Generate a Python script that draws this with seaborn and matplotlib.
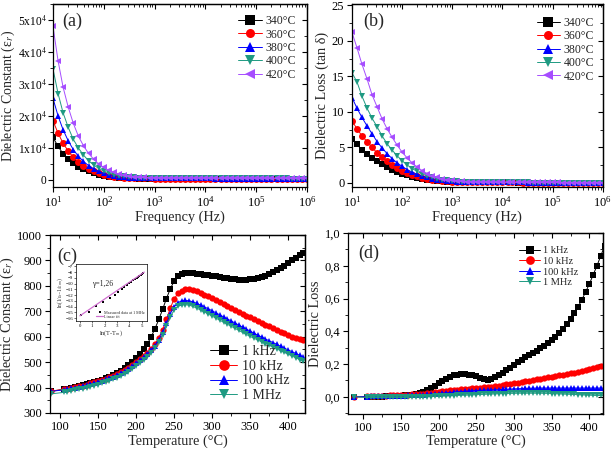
import numpy as np
import pandas as pd
import matplotlib
matplotlib.use("Agg")
import matplotlib.pyplot as plt
import seaborn as sns
from matplotlib.ticker import MultipleLocator, FuncFormatter, FixedLocator

# ---------------- data ----------------
freq = [10, 12.6, 15.8, 20.0, 25.1, 31.6, 39.8, 50.1, 63.1, 79.4,
        100, 126, 158, 200, 251, 316, 398, 501, 631, 794,
        1000, 1260, 1580, 2000, 2510, 3160, 3980, 5010, 6310, 7940,
        1e4, 1.26e4, 1.58e4, 2.0e4, 2.51e4, 3.16e4, 3.98e4, 5.01e4, 6.31e4, 7.94e4,
        1e5, 1.26e5, 1.58e5, 2.0e5, 2.51e5, 3.16e5, 3.98e5, 5.01e5, 6.31e5, 7.94e5,
        1e6]
anneal_labels = ["340°C", "360°C", "380°C", "400°C", "420°C"]

eps_340 = [13300, 10500, 8200, 6600, 5300, 4200, 3400, 2700, 2150, 1700,
           1350, 1080, 880, 730, 620, 540, 480, 440, 410, 390,
           375, 370, 365, 362, 360, 358, 356, 354, 352, 350,
           349, 348, 347, 346, 345, 344, 343, 342, 341, 340,
           339, 338, 337, 336, 335, 334, 333, 332, 331, 330,
           329]
eps_360 = [18500, 14600, 11500, 9000, 7100, 5600, 4400, 3500, 2750, 2150,
           1700, 1350, 1080, 880, 740, 640, 570, 520, 490, 470,
           455, 448, 444, 440, 437, 434, 431, 428, 425, 422,
           420, 418, 416, 414, 412, 410, 408, 406, 404, 402,
           400, 398, 396, 394, 392, 390, 388, 386, 384, 382,
           380]
eps_380 = [25500, 20000, 15700, 12200, 9500, 7400, 5800, 4500, 3500, 2700,
           2100, 1650, 1300, 1050, 870, 740, 650, 590, 550, 525,
           510, 500, 495, 490, 486, 482, 478, 474, 470, 467,
           464, 461, 458, 455, 452, 449, 446, 443, 440, 437,
           434, 432, 430, 428, 426, 424, 422, 420, 418, 416,
           414]
eps_400 = [34700, 27000, 21000, 16400, 12700, 10000, 7800, 6000, 4700, 3600,
           2800, 2150, 1700, 1350, 1100, 920, 800, 710, 650, 615,
           590, 575, 565, 557, 550, 544, 538, 532, 527, 522,
           517, 512, 508, 504, 500, 496, 492, 488, 485, 482,
           479, 476, 473, 470, 467, 464, 461, 458, 455, 452,
           450]
eps_420 = [48000, 37200, 29000, 22700, 17700, 13700, 10700, 8300, 6500, 5000,
           3900, 3000, 2350, 1850, 1480, 1200, 1000, 870, 780, 720,
           680, 655, 640, 628, 618, 610, 602, 595, 588, 582,
           576, 570, 565, 560, 555, 550, 545, 541, 537, 533,
           529, 525, 521, 518, 515, 512, 509, 506, 503, 500,
           497]

tan_340 = [6.2, 5.4, 4.6, 4.0, 3.5, 3.1, 2.6, 2.2, 1.85, 1.55,
           1.3, 1.05, 0.85, 0.68, 0.54, 0.42, 0.33, 0.26, 0.2, 0.16,
           0.13, 0.11, 0.1, 0.09, 0.08, 0.07, 0.065, 0.06, 0.055, 0.05,
           0.045, 0.04, 0.04, 0.035, 0.035, 0.03, 0.03, 0.03, 0.025, 0.025,
           0.025, 0.02, 0.02, 0.02, 0.02, 0.02, 0.015, 0.015, 0.015, 0.015,
           0.015]
tan_360 = [8.7, 7.6, 6.6, 5.8, 5.0, 4.2, 3.6, 3.0, 2.5, 2.1,
           1.7, 1.4, 1.12, 0.9, 0.72, 0.57, 0.45, 0.35, 0.27, 0.21,
           0.17, 0.14, 0.12, 0.1, 0.09, 0.08, 0.07, 0.065, 0.06, 0.055,
           0.05, 0.045, 0.04, 0.04, 0.035, 0.035, 0.03, 0.03, 0.03, 0.025,
           0.025, 0.025, 0.02, 0.02, 0.02, 0.02, 0.02, 0.02, 0.015, 0.015,
           0.015]
tan_380 = [12.0, 10.5, 9.2, 8.0, 6.9, 5.8, 4.9, 4.1, 3.4, 2.8,
           2.3, 1.85, 1.5, 1.2, 0.95, 0.75, 0.58, 0.45, 0.35, 0.27,
           0.21, 0.17, 0.14, 0.12, 0.1, 0.09, 0.08, 0.07, 0.065, 0.06,
           0.055, 0.05, 0.045, 0.04, 0.04, 0.035, 0.035, 0.03, 0.03, 0.03,
           0.025, 0.025, 0.025, 0.02, 0.02, 0.02, 0.02, 0.02, 0.02, 0.02,
           0.02]
tan_400 = [15.5, 14.2, 12.2, 10.5, 9.1, 7.9, 6.6, 5.5, 4.6, 3.8,
           3.1, 2.5, 2.0, 1.6, 1.25, 0.97, 0.75, 0.57, 0.43, 0.33,
           0.25, 0.2, 0.16, 0.13, 0.11, 0.1, 0.09, 0.08, 0.07, 0.065,
           0.06, 0.055, 0.05, 0.045, 0.04, 0.04, 0.035, 0.035, 0.03, 0.03,
           0.03, 0.03, 0.025, 0.025, 0.025, 0.025, 0.02, 0.02, 0.02, 0.02,
           0.02]
tan_420 = [21.2, 19.0, 16.7, 14.6, 12.4, 10.7, 9.0, 7.6, 6.4, 5.3,
           4.3, 3.5, 2.8, 2.2, 1.7, 1.3, 1.0, 0.76, 0.57, 0.43,
           0.33, 0.26, 0.21, 0.17, 0.14, 0.12, 0.11, 0.1, 0.09, 0.08,
           0.075, 0.07, 0.065, 0.06, 0.055, 0.05, 0.05, 0.045, 0.045, 0.04,
           0.04, 0.04, 0.035, 0.035, 0.035, 0.03, 0.03, 0.03, 0.03, 0.03,
           0.03]

temp = [88, 105, 110, 115, 120, 125, 130, 135, 140, 145, 150,
        155, 160, 165, 170, 175, 180, 185, 190, 195, 200,
        205, 210, 215, 220, 225, 230, 235, 240, 245, 250,
        255, 260, 265, 270, 275, 280, 285, 290, 295, 300,
        305, 310, 315, 320, 325, 330, 335, 340, 345, 350,
        355, 360, 365, 370, 375, 380, 385, 390, 395, 400,
        405, 410, 415, 420]
freq_labels = ["1 kHz", "10 kHz", "100 kHz", "1 MHz"]

epsT_1k = [385, 393, 396, 399, 402, 405, 409, 413, 417, 421, 426,
           431, 437, 443, 450, 458, 467, 477, 489, 502, 516,
           531, 550, 572, 600, 632, 668, 708, 750, 788, 818,
           838, 847, 851, 852, 850, 848, 846, 844, 842, 840,
           837, 834, 831, 829, 827, 826, 825, 825, 825, 826,
           828, 831, 835, 840, 846, 853, 861, 870, 880, 890,
           900, 910, 920, 930]
epsT_10k = [386, 393, 396, 399, 402, 405, 408, 412, 416, 420, 425,
            430, 435, 441, 447, 454, 461, 469, 478, 489, 500,
            512, 524, 537, 553, 572, 596, 628, 668, 712, 748,
            770, 781, 786, 787, 784, 779, 773, 766, 759, 751,
            743, 735, 727, 719, 711, 704, 697, 690, 683, 676,
            669, 662, 655, 648, 641, 634, 627, 620, 613, 606,
            600, 595, 590, 586]
epsT_100k = [385, 391, 394, 397, 400, 403, 406, 410, 414, 418, 422,
             427, 432, 437, 443, 449, 456, 464, 473, 483, 495,
             507, 519, 532, 547, 565, 588, 617, 652, 690, 718,
             734, 741, 743, 741, 737, 731, 724, 717, 710, 702,
             694, 686, 678, 670, 662, 654, 646, 638, 630, 622,
             614, 606, 599, 591, 584, 577, 570, 562, 555, 548,
             541, 534, 527, 520]
epsT_1M = [375, 381, 384, 387, 390, 393, 396, 400, 404, 408, 412,
           417, 422, 427, 433, 439, 446, 454, 463, 473, 485,
           497, 509, 522, 537, 555, 578, 607, 642, 678, 704,
           719, 725, 726, 724, 719, 712, 705, 697, 689, 681,
           673, 665, 657, 649, 641, 633, 625, 617, 609, 601,
           594, 587, 580, 573, 566, 559, 552, 545, 538, 531,
           524, 517, 510, 503]

tanT_1k = [0.0, 0.0, 0.0, 0.0, 0.0, 0.0, 0.002, 0.003, 0.004, 0.005, 0.006,
           0.008, 0.01, 0.013, 0.017, 0.022, 0.03, 0.04, 0.052, 0.066, 0.082,
           0.097, 0.11, 0.121, 0.13, 0.136, 0.139, 0.139, 0.136, 0.131, 0.124,
           0.115, 0.108, 0.105, 0.108, 0.118, 0.132, 0.147, 0.162, 0.178, 0.194,
           0.21, 0.225, 0.24, 0.254, 0.268, 0.282, 0.297, 0.313, 0.33, 0.348,
           0.368, 0.39, 0.415, 0.443, 0.475, 0.51, 0.55, 0.593, 0.64, 0.69,
           0.745, 0.8, 0.86, 0.92]
tanT_10k = [0.0, 0.002, 0.003, 0.004, 0.005, 0.006, 0.007, 0.008, 0.009, 0.01, 0.011,
            0.012, 0.013, 0.014, 0.016, 0.018, 0.02, 0.022, 0.025, 0.028, 0.031,
            0.034, 0.037, 0.04, 0.042, 0.044, 0.046, 0.048, 0.05, 0.052, 0.054,
            0.056, 0.058, 0.06, 0.062, 0.065, 0.068, 0.071, 0.075, 0.079, 0.083,
            0.087, 0.091, 0.095, 0.099, 0.103, 0.107, 0.111, 0.115, 0.119, 0.123,
            0.127, 0.131, 0.135, 0.139, 0.143, 0.148, 0.153, 0.158, 0.163, 0.168,
            0.174, 0.18, 0.186, 0.192]
tanT_100k = [0.0, 0.001, 0.002, 0.003, 0.003, 0.004, 0.004, 0.005, 0.005, 0.006, 0.006,
             0.007, 0.008, 0.009, 0.01, 0.011, 0.012, 0.014, 0.016, 0.018, 0.02,
             0.022, 0.024, 0.026, 0.028, 0.03, 0.032, 0.034, 0.036, 0.037, 0.038,
             0.039, 0.04, 0.041, 0.042, 0.043, 0.044, 0.045, 0.046, 0.047, 0.048,
             0.049, 0.05, 0.051, 0.052, 0.052, 0.053, 0.053, 0.053, 0.053, 0.053,
             0.053, 0.053, 0.053, 0.053, 0.053, 0.053, 0.053, 0.053, 0.053, 0.053,
             0.053, 0.053, 0.053, 0.053]
tanT_1M = [0.0, -0.004, -0.004, -0.004, -0.004, -0.004, -0.004, -0.004, -0.004, -0.004, -0.004,
           -0.004, -0.003, -0.003, -0.002, -0.002, -0.001, 0.0, 0.001, 0.002, 0.003,
           0.004, 0.005, 0.006, 0.007, 0.008, 0.009, 0.01, 0.011, 0.012, 0.013,
           0.014, 0.015, 0.016, 0.017, 0.018, 0.019, 0.02, 0.02, 0.021, 0.021,
           0.022, 0.022, 0.022, 0.022, 0.022, 0.022, 0.022, 0.021, 0.021, 0.02,
           0.019, 0.018, 0.017, 0.016, 0.015, 0.014, 0.013, 0.012, 0.011, 0.01,
           0.009, 0.008, 0.008, 0.007]

# inset: ln(1/eps - 1/eps_m) vs ln(T - Tm) at 1 MHz
inset_x = [0.1, 0.75, 1.3, 1.9, 2.4, 2.8, 3.1, 3.4, 3.6, 3.8, 4.0,
           4.15, 4.3, 4.45, 4.6, 4.7, 4.8, 4.9, 5.0, 5.1]
inset_y = [-15.5, -14.9, -13.9, -13.2, -12.5, -11.9, -11.4, -10.9, -10.6, -10.3, -9.95,
           -9.7, -9.45, -9.2, -8.95, -8.8, -8.6, -8.45, -8.25, -8.1]
fit_x = [0.0, 5.2]
fit_y = [-15.6, -8.0]

# ---------------- styling ----------------
sns.set_theme(style="ticks")
plt.rcParams["font.family"] = ["Liberation Serif", "DejaVu Serif"]
plt.rcParams["mathtext.fontset"] = "stix"
plt.rcParams.update({
    "axes.edgecolor": "black", "axes.linewidth": 0.9,
    "xtick.color": "black", "ytick.color": "black",
    "xtick.major.size": 3.5, "ytick.major.size": 3.5,
    "xtick.minor.size": 2, "ytick.minor.size": 2,
    "xtick.major.width": 0.8, "ytick.major.width": 0.8,
    "xtick.minor.width": 0.6, "ytick.minor.width": 0.6,
    "xtick.direction": "out", "ytick.direction": "out",
})

anneal_colors = ["#000000", "#ff0000", "#0000ff", "#1f9a82", "#a64dff"]
anneal_markers = ["s", "o", "^", "v", "<"]
freq_colors = anneal_colors[:4]
freq_markers = anneal_markers[:4]

df_eps = pd.DataFrame({
    "freq": freq * 5,
    "value": eps_340 + eps_360 + eps_380 + eps_400 + eps_420,
    "group": sum([[lab] * len(freq) for lab in anneal_labels], []),
})
df_tan = pd.DataFrame({
    "freq": freq * 5,
    "value": tan_340 + tan_360 + tan_380 + tan_400 + tan_420,
    "group": sum([[lab] * len(freq) for lab in anneal_labels], []),
})
df_epsT = pd.DataFrame({
    "temp": temp * 4,
    "value": epsT_1k + epsT_10k + epsT_100k + epsT_1M,
    "group": sum([[lab] * len(temp) for lab in freq_labels], []),
})
df_tanT = pd.DataFrame({
    "temp": temp * 4,
    "value": tanT_1k + tanT_10k + tanT_100k + tanT_1M,
    "group": sum([[lab] * len(temp) for lab in freq_labels], []),
})

fig = plt.figure(figsize=(6.14, 4.49), dpi=100)
ax_a = fig.add_axes([0.0863, 0.5835, 0.4137, 0.4076])
ax_b = fig.add_axes([0.5733, 0.5835, 0.4085, 0.4076])
ax_c = fig.add_axes([0.0814, 0.0802, 0.4153, 0.3964])
ax_d = fig.add_axes([0.5668, 0.0780, 0.4153, 0.4031])


def draw(ax, data, x, order, colors, markers, ms):
    sns.lineplot(
        data=data, x=x, y="value", hue="group", style="group",
        hue_order=order, style_order=order,
        palette=dict(zip(order, colors)), markers=dict(zip(order, markers)),
        dashes=False, estimator=None, sort=False, ax=ax,
        markersize=ms, markeredgewidth=0, linewidth=0.7,
    )


def mirror_ticks(ax, xloc=None, xminor=None, yloc=None, yminor=None):
    top = ax.secondary_xaxis("top")
    right = ax.secondary_yaxis("right")
    top.tick_params(axis="x", which="both", direction="in", labeltop=False)
    right.tick_params(axis="y", which="both", direction="in", labelright=False)
    if xloc is not None:
        top.xaxis.set_major_locator(MultipleLocator(xloc))
        top.xaxis.set_minor_locator(MultipleLocator(xminor))
    if yloc is not None:
        right.yaxis.set_major_locator(MultipleLocator(yloc))
        right.yaxis.set_minor_locator(MultipleLocator(yminor))


tick_fs = 9
label_fs = 10.3

# (a) dielectric constant vs frequency
draw(ax_a, df_eps, "freq", anneal_labels, anneal_colors, anneal_markers, 5)
ax_a.set_xscale("log")
ax_a.set_xlim(10, 1e6)
ax_a.set_ylim(-2200, 55000)
ax_a.yaxis.set_major_locator(FixedLocator([0, 1e4, 2e4, 3e4, 4e4, 5e4]))
ax_a.yaxis.set_minor_locator(MultipleLocator(5000))
ax_a.yaxis.set_major_formatter(FuncFormatter(
    lambda v, p: "0" if v == 0 else f"{int(round(v / 1e4))}x10$^4$"))
ax_a.set_xlabel("Frequency (Hz)", fontsize=label_fs, labelpad=1)
ax_a.set_ylabel("Dielectric Constant (ε$_r$)", fontsize=10)
ax_a.yaxis.set_label_coords(-0.14, 0.5)
mirror_ticks(ax_a, yloc=1e4, yminor=5000)

# (b) dielectric loss vs frequency
draw(ax_b, df_tan, "freq", anneal_labels, anneal_colors, anneal_markers, 5)
ax_b.set_xscale("log")
ax_b.set_xlim(10, 1e6)
ax_b.set_ylim(-0.6, 25.2)
ax_b.yaxis.set_major_locator(MultipleLocator(5))
ax_b.yaxis.set_minor_locator(MultipleLocator(2.5))
ax_b.set_xlabel("Frequency (Hz)", fontsize=label_fs, labelpad=1)
ax_b.set_ylabel("Dielectric Loss (tan δ)", fontsize=label_fs, labelpad=2)
mirror_ticks(ax_b, yloc=5, yminor=2.5)

# (c) dielectric constant vs temperature
draw(ax_c, df_epsT, "temp", freq_labels, freq_colors, freq_markers, 4.5)
ax_c.set_xlim(87, 422)
ax_c.set_ylim(300, 1000)
ax_c.xaxis.set_major_locator(MultipleLocator(50))
ax_c.xaxis.set_minor_locator(MultipleLocator(25))
ax_c.yaxis.set_major_locator(MultipleLocator(100))
ax_c.yaxis.set_minor_locator(MultipleLocator(50))
ax_c.set_xlabel("Temperature (°C)", fontsize=label_fs, labelpad=1)
ax_c.set_ylabel("Dielectric Constant (ε$_r$)", fontsize=label_fs, labelpad=1)
mirror_ticks(ax_c, 50, 25, 100, 50)

# (d) dielectric loss vs temperature
draw(ax_d, df_tanT, "temp", freq_labels, freq_colors, freq_markers, 4.5)
ax_d.set_xlim(80, 418)
ax_d.set_ylim(-0.105, 1.0)
ax_d.xaxis.set_major_locator(MultipleLocator(50))
ax_d.xaxis.set_minor_locator(MultipleLocator(25))
ax_d.yaxis.set_major_locator(FixedLocator([0.0, 0.2, 0.4, 0.6, 0.8, 1.0]))
ax_d.yaxis.set_minor_locator(MultipleLocator(0.1))
ax_d.yaxis.set_major_formatter(FuncFormatter(lambda v, p: f"{v:.1f}".replace(".", ",")))
ax_d.set_xlabel("Temperature (°C)", fontsize=label_fs, labelpad=1)
ax_d.set_ylabel("Dielectric Loss", fontsize=label_fs, labelpad=2)
mirror_ticks(ax_d, 50, 25, 0.2, 0.1)

for ax in (ax_a, ax_b, ax_c, ax_d):
    ax.tick_params(axis="both", which="major", labelsize=tick_fs, pad=2)
ax_a.tick_params(axis="y", which="major", labelsize=8.3, pad=1)

# legends
leg_kw = dict(frameon=False, title=None, handlelength=2.0, handletextpad=0.3,
              labelspacing=0.12, borderaxespad=0.0)
sns.move_legend(ax_a, "upper right", bbox_to_anchor=(0.975, 0.965),
                fontsize=8.5, markerscale=1.3, **leg_kw)
sns.move_legend(ax_b, "upper right", bbox_to_anchor=(0.985, 0.955),
                fontsize=8.5, markerscale=1.3, **leg_kw)
sns.move_legend(ax_c, "lower right", bbox_to_anchor=(0.96, 0.03),
                fontsize=10, markerscale=1.7, **leg_kw)
sns.move_legend(ax_d, "upper right", bbox_to_anchor=(0.92, 0.95),
                fontsize=7.5, markerscale=1.4, **leg_kw)

# panel letters
ax_a.text(0.035, 0.905, "(a)", transform=ax_a.transAxes, fontsize=13, va="center")
ax_b.text(0.043, 0.905, "(b)", transform=ax_b.transAxes, fontsize=13, va="center")
ax_c.text(0.027, 0.88, "(c)", transform=ax_c.transAxes, fontsize=13, va="center")
ax_d.text(0.04, 0.89, "(d)", transform=ax_d.transAxes, fontsize=13, va="center")

# inset in (c)
ins = fig.add_axes([0.124, 0.285, 0.115, 0.127])
sns.scatterplot(x=inset_x, y=inset_y, marker="s", color="black", s=3,
                linewidth=0, ax=ins, label="Measured data at 1 MHz")
sns.lineplot(x=fit_x, y=fit_y, color="#d070d0", linewidth=0.9, ax=ins,
             label="Linear fit")
ins.set_xlim(-0.3, 5.4)
ins.set_ylim(-16.5, -6.6)
ins.xaxis.set_major_locator(MultipleLocator(1))
ins.yaxis.set_major_locator(MultipleLocator(1))
ins.tick_params(axis="both", labelsize=3.5, length=1.2, width=0.4, pad=0.8)
for sp in ins.spines.values():
    sp.set_linewidth(0.5)
ins.set_xlabel("ln(T-T$_m$)", fontsize=4.5, labelpad=0.5)
ins.set_ylabel("ln(1/ε$_r$-1/ε$_{rm}$)", fontsize=4, labelpad=0.5)
ins.text(0.22, 0.62, "γ=1,26", transform=ins.transAxes, fontsize=5.5)
ins.legend(loc="lower right", fontsize=3, frameon=False, handlelength=1.5,
           borderaxespad=0.1, labelspacing=0.1, handletextpad=0.3)

fig.savefig("out.png", dpi=100)
